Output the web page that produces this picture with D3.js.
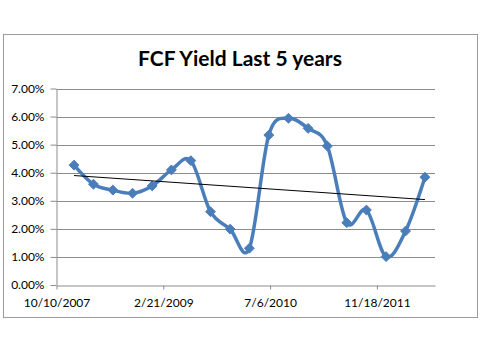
<!DOCTYPE html>
<html><head><meta charset="utf-8">
<script src="https://cdn.jsdelivr.net/npm/d3@7"></script>
<style>body{margin:0;background:#fff}</style>
</head><body><svg id="c" width="480" height="360"></svg>
<script>
const title = "FCF Yield Last 5 years";
const dates = ["12/31/2007","3/31/2008","6/30/2008","9/30/2008","12/31/2008","3/31/2009","6/30/2009","9/30/2009","12/31/2009","3/31/2010","6/30/2010","9/30/2010","12/31/2010","3/31/2011","6/30/2011","9/30/2011","12/31/2011","3/31/2012","6/30/2012"];
const values = [4.27,3.59,3.38,3.27,3.53,4.10,4.43,2.61,1.99,1.31,5.34,5.94,5.58,4.95,2.22,2.67,1.01,1.92,3.84];
const yTicks = [0,1,2,3,4,5,6,7];
const xTickLabels = ["10/10/2007","2/21/2009","7/6/2010","11/18/2011"];
const xDomain = ["10/10/2007","8/16/2012"];

const parse = d3.utcParse("%m/%d/%Y");
const fmt = d3.utcFormat("%-m/%-d/%Y");
const data = dates.map((d,i)=>({x:parse(d), y:values[i]}));

const svg = d3.select("#c");
const font = "Lato, 'Open Sans', sans-serif";

// chart border
svg.append("rect").attr("x",3.5).attr("y",34.5).attr("width",474).attr("height",283)
  .attr("fill","#fff").attr("stroke","#9a9a9a").attr("stroke-width",1);

svg.append("text").attr("x",240).attr("y",66).attr("text-anchor","middle")
  .attr("font-family",font).attr("font-weight","bold").attr("font-size",21).attr("fill","#000")
  .text(title);

const x = d3.scaleUtc().domain(xDomain.map(parse)).range([56.5,435]);
const y = d3.scaleLinear().domain([0,7]).range([285,88.5]);

// gridlines
svg.append("g").selectAll("line").data(yTicks.filter(t=>t>0)).join("line")
  .attr("x1",56.5).attr("x2",435).attr("y1",d=>Math.round(y(d))+0.5).attr("y2",d=>Math.round(y(d))+0.5)
  .attr("stroke","#8c8c8c").attr("stroke-width",1);

// y axis
const yAxis = svg.append("g").attr("transform","translate(56.5,0)")
  .call(d3.axisLeft(y).tickValues(yTicks).tickFormat(d=>d.toFixed(2)+"%").tickSize(6).tickPadding(6).tickSizeOuter(0));
yAxis.selectAll("path,line").attr("stroke","#8c8c8c");
yAxis.selectAll("text").attr("font-family",font).attr("font-size",12).attr("fill","#000");

// x axis
const xAxis = svg.append("g").attr("transform","translate(0,285.5)")
  .call(d3.axisBottom(x).tickValues(xTickLabels.map(parse)).tickFormat(fmt).tickSize(4).tickPadding(9).tickSizeOuter(0));
xAxis.selectAll("path,line").attr("stroke","#8c8c8c");
xAxis.selectAll("text").attr("font-family",font).attr("font-size",12).attr("fill","#000");

// series
const line = d3.line().x(d=>x(d.x)).y(d=>y(d.y)).curve(d3.curveCardinal.tension(0));
svg.append("path").datum(data).attr("d",line).attr("fill","none")
  .attr("stroke","#4a7ebb").attr("stroke-width",3.5).attr("stroke-linejoin","round");

const diamond = d3.symbol().type(d3.symbolDiamond2).size(62);
svg.append("g").selectAll("path").data(data).join("path")
  .attr("transform",d=>`translate(${x(d.x)},${y(d.y)})`).attr("d",diamond)
  .attr("fill","#4a7ebb").attr("stroke","#4a7ebb").attr("stroke-width",1);

// linear trendline (least squares)
const xs = data.map(d=>+d.x), ys = data.map(d=>d.y);
const mx = d3.mean(xs), my = d3.mean(ys);
const slope = d3.sum(xs.map((v,i)=>(v-mx)*(ys[i]-my))) / d3.sum(xs.map(v=>(v-mx)*(v-mx)));
const f = v => my + slope*(v-mx);
const ends = [data[0].x, data[data.length-1].x];
svg.append("line")
  .attr("x1",x(ends[0])).attr("y1",y(f(+ends[0])))
  .attr("x2",x(ends[1])).attr("y2",y(f(+ends[1])))
  .attr("stroke","#000").attr("stroke-width",1);
</script></body></html>
